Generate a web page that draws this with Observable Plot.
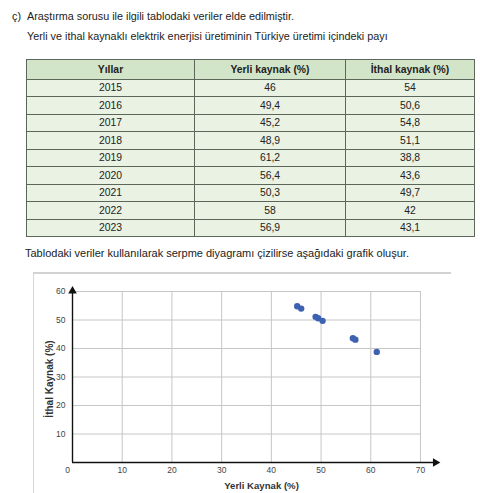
<!DOCTYPE html>
<html>
<head>
<meta charset="utf-8">
<script src="https://cdn.jsdelivr.net/npm/d3@7"></script>
<script src="https://cdn.jsdelivr.net/npm/@observablehq/plot@0.6"></script>
<style>
  html, body { margin: 0; padding: 0; background: #fff; }
  body { width: 485px; height: 493px; position: relative; overflow: hidden;
         font-family: "Liberation Sans", Arial, sans-serif; color: #222; }
  .t { position: absolute; font-size: 10.8px; white-space: nowrap; line-height: 1; }
  table { position: absolute; left: 26px; top: 59px; width: 448px; border-collapse: collapse;
          font-size: 10.4px; table-layout: fixed; }
  td, th { border: 1px solid #5d665a; text-align: center; padding: 0; color: #222; }
  th { background: #d3e5c9; height: 18.5px; font-weight: bold; }
  td { background: #eaf2e3; height: 16.5px; }
  #panel { position: absolute; left: 33px; top: 272px; width: 417px; height: 240px;
           border-top: 2px solid #d2d2d2; border-left: 1px solid #d6d6d6; }
  #chart { position: absolute; left: 33px; top: 273px; }
  #ylab { position: absolute; left: 49.5px; top: 379px; transform: translate(-50%, -50%) rotate(-90deg);
          font-size: 10px; font-weight: bold; color: #333; white-space: nowrap; line-height: 1; }
</style>
</head>
<body>
<div class="t" style="left:12px; top:11px;">ç)</div>
<div class="t" style="left:27px; top:11px;">Araştırma sorusu ile ilgili tablodaki veriler elde edilmiştir.</div>
<div class="t" style="left:27px; top:31px;">Yerli ve ithal kaynaklı elektrik enerjisi üretiminin Türkiye üretimi içindeki payı</div>
<table id="tbl"></table>
<div class="t" style="left:25px; top:248px; font-size:11px;">Tablodaki veriler kullanılarak serpme diyagramı çizilirse aşağıdaki grafik oluşur.</div>
<div id="panel"></div>
<div id="chart"></div>
<div id="ylab"></div>
<script>
const headers = ["Yıllar", "Yerli kaynak (%)", "İthal kaynak (%)"];
const years = [2015, 2016, 2017, 2018, 2019, 2020, 2021, 2022, 2023];
const yerli = [46, 49.4, 45.2, 48.9, 61.2, 56.4, 50.3, 58, 56.9];
const ithal = [54, 50.6, 54.8, 51.1, 38.8, 43.6, 49.7, 42, 43.1];
// years whose points appear in the reference scatter plot (2022 is not drawn there)
const plottedYears = [2015, 2016, 2017, 2018, 2019, 2020, 2021, 2023];
const xTicks = [10, 20, 30, 40, 50, 60, 70];
const yTicks = [10, 20, 30, 40, 50, 60];
const originTick = [0];
const xDomain = [0, 70];
const yDomain = [0, 60];
const xArrowEnd = 73;
const yArrowEnd = 60.2;
const xLabel = "Yerli Kaynak (%)";
const yLabel = "İthal Kaynak (%)";

const fmt = v => String(v).replace(".", ",");

// table
const tbl = document.getElementById("tbl");
const colWidths = [168, 151, 129];
const cg = document.createElement("colgroup");
colWidths.forEach(w => { const c = document.createElement("col"); c.style.width = w + "px"; cg.appendChild(c); });
tbl.appendChild(cg);
const hr = document.createElement("tr");
headers.forEach(h => { const th = document.createElement("th"); th.textContent = h; hr.appendChild(th); });
tbl.appendChild(hr);
years.forEach((y, i) => {
  const tr = document.createElement("tr");
  [String(y), fmt(yerli[i]), fmt(ithal[i])].forEach(v => {
    const td = document.createElement("td"); td.textContent = v; tr.appendChild(td);
  });
  tbl.appendChild(tr);
});

const data = years.map((y, i) => ({year: y, yerli: yerli[i], ithal: ithal[i]}))
  .filter(d => plottedYears.includes(d.year));

const chart = Plot.plot({
  width: 452,
  height: 220,
  marginLeft: 39,
  marginRight: 65,
  marginTop: 18,
  marginBottom: 31,
  style: {fontFamily: "Liberation Sans, Arial, sans-serif", background: "transparent", overflow: "visible"},
  x: {domain: xDomain},
  y: {domain: yDomain},
  marks: [
    Plot.ruleX(xTicks, {x: d => d, y1: yDomain[0], y2: yDomain[1], stroke: "#c6c6c6", strokeWidth: 1}),
    Plot.ruleY(yTicks, {y: d => d, x1: xDomain[0], x2: xDomain[1], stroke: "#c6c6c6", strokeWidth: 1}),
    Plot.axisX(xTicks, {tickSize: 0, tickPadding: 4, fontSize: 8.5, color: "#444", label: null}),
    Plot.axisY(yTicks, {tickSize: 0, tickPadding: 7, fontSize: 8.5, color: "#444", label: null}),
    Plot.text(originTick, {x: d => d, y: d => d, text: d => String(d), dx: -5, dy: 8, fontSize: 8.5, fill: "#444"}),
    Plot.ruleY(originTick, {y: d => d, x1: xDomain[0], x2: xArrowEnd, stroke: "#111", strokeWidth: 1.4}),
    Plot.ruleX(originTick, {x: d => d, y1: yDomain[0], y2: yArrowEnd, stroke: "#111", strokeWidth: 1.4}),
    Plot.dot([xArrowEnd], {x: d => d, y: 0, symbol: "triangle", r: 3.2, fill: "#111", stroke: null, rotate: 90}),
    Plot.dot([yArrowEnd], {x: 0, y: d => d, symbol: "triangle", r: 3.2, fill: "#111", stroke: null}),
    Plot.dot(data, {x: "yerli", y: "ithal", r: 3.2, fill: "#3d62b0", stroke: null}),
    Plot.text([xLabel], {frameAnchor: "bottom", text: d => d, dx: 15, dy: 23.5, fontSize: 9.6, fontWeight: "bold", fill: "#333", lineAnchor: "middle"})
  ]
});
document.getElementById("chart").appendChild(chart);
document.getElementById("ylab").textContent = yLabel;
</script>
</body>
</html>
